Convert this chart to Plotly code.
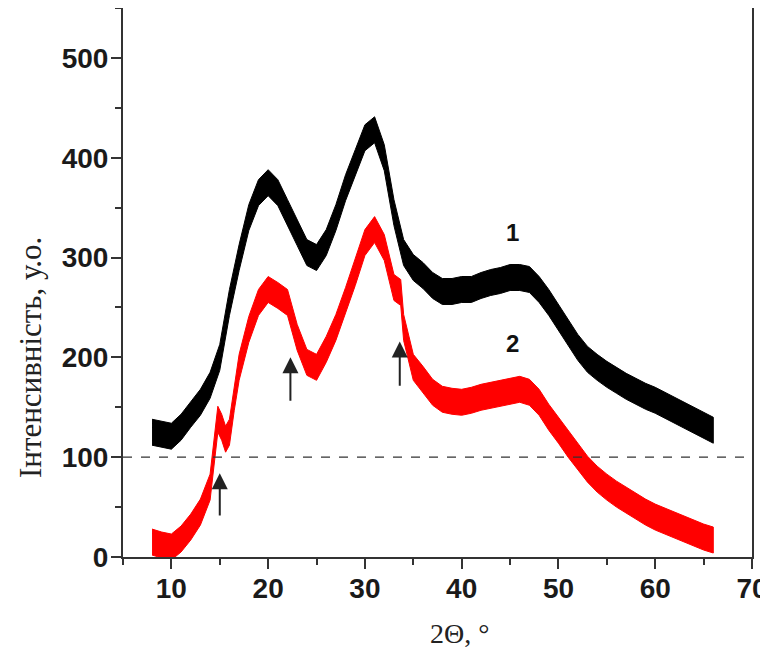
import plotly.graph_objects as go

# 2Theta positions (degrees)
x1 = [8, 9, 10, 11, 12, 13, 14, 15, 16, 17, 18, 19, 20, 21, 22, 23, 24, 25, 26, 27, 28, 29, 30, 31, 32, 33,
      34, 35, 36, 37, 38, 39, 40, 41, 42, 43, 44, 45, 46, 47, 48, 49, 50, 51, 52, 53, 54, 55, 56, 57, 58, 59,
      60, 61, 62, 63, 64, 65, 66]
y1 = [125, 123, 121, 130, 143, 155, 172, 200, 255, 300, 340, 365, 375, 365, 345, 325, 305, 300, 315, 340,
      370, 395, 420, 428, 400, 345, 305, 290, 282, 272, 266, 266, 268, 268, 272, 275, 277, 280, 280, 278,
      268, 255, 240, 225, 210, 198, 190, 183, 177, 171, 166, 161, 157, 152, 147, 142, 137, 132, 127]

x2 = [8, 9, 10, 11, 12, 13, 14, 14.5, 14.8, 15.2, 15.6, 16, 16.5, 17, 18, 19, 20, 21, 22, 23, 24, 25, 26, 27,
      28, 29, 30, 31, 32, 33, 33.7, 34, 35, 36, 37, 38, 39, 40, 41, 42, 43, 44, 45, 46, 47, 48, 49, 50, 51, 52,
      53, 54, 55, 56, 57, 58, 59, 60, 61, 62, 63, 64, 65, 66]
y2 = [15, 12, 10, 18, 30, 45, 70, 110, 138, 130, 118, 125, 160, 190, 228, 255, 268, 262, 255, 220, 195, 190,
      208, 230, 257, 285, 315, 328, 310, 270, 265, 230, 190, 178, 165, 158, 156, 155, 157, 160, 162, 164, 166,
      168, 165, 155, 140, 127, 113, 100, 88, 78, 70, 63, 57, 51, 45, 40, 36, 32, 28, 24, 20, 17]

# noise half-widths of the patterns (intensity units)
noise1 = 13
noise2 = 13

# arrows: x position, tail and head intensity
arrow_x = [15.0, 22.3, 33.6]
arrow_tail = [40, 155, 170]
arrow_head = [84, 200, 216]

# curve labels
label_text = ["1", "2"]
label_x = [45.2, 45.2]
label_y = [325, 214]

# page is offset by the 8px body margin, so the figure is 8px smaller
W, H = 760, 647
ML, MR, MT, MB = 115, 16, 0, 98
PW, PH = W - ML - MR, H - MT - MB

fig = go.Figure()


def add_pattern(xs, ys, spread, color):
    upper = [v + spread for v in ys]
    lower = [v - spread for v in ys]
    fig.add_trace(go.Scatter(x=xs + xs[::-1], y=upper + lower[::-1], fill="toself",
                             fillcolor=color, line=dict(color=color, width=1),
                             mode="lines", hoverinfo="skip", showlegend=False))


add_pattern(x1, y1, noise1, "#000000")
add_pattern(x2, y2, noise2, "#ff0000")

fig.add_shape(type="line", xref="paper", x0=0, x1=1, yref="y", y0=100, y1=100,
              line=dict(color="#333333", width=1.2, dash="dash"))

for ax_, t, h in zip(arrow_x, arrow_tail, arrow_head):
    fig.add_annotation(x=ax_, y=h, ax=ax_, ay=t, xref="x", yref="y", axref="x", ayref="y",
                       text="", showarrow=True, arrowhead=2, arrowsize=1.6, arrowwidth=2,
                       arrowcolor="#222222")

for t, lx, ly in zip(label_text, label_x, label_y):
    fig.add_annotation(x=lx, y=ly, text=t, showarrow=False,
                       font=dict(family="Liberation Sans", size=24, color="#111111", weight="bold"))

# axis titles placed in the margins (target pixel centres in the figure)
fig.add_annotation(xref="paper", yref="paper", x=(22 - ML) / PW, y=(PH - 350) / PH,
                   xanchor="center", yanchor="middle",
                   text="Інтенсивність, у.о.", textangle=-90, showarrow=False,
                   font=dict(family="Liberation Serif", size=31, color="#222222"))
fig.add_annotation(xref="paper", yref="paper", x=(451 - ML) / PW, y=(PH - 625) / PH,
                   xanchor="center", yanchor="middle",
                   text="2Θ, °", showarrow=False,
                   font=dict(family="Liberation Serif", size=28, color="#222222"))

tickfont = dict(family="Liberation Sans", size=28, color="#1a1a1a", weight="bold")

fig.update_layout(
    width=W, height=H,
    margin=dict(l=ML, r=MR, t=MT, b=MB),
    plot_bgcolor="white", paper_bgcolor="white",
    showlegend=False,
)
fig.update_xaxes(range=[5, 70], dtick=10, tick0=0, showgrid=False, zeroline=False, automargin=False,
                 showline=True, linecolor="#333333", linewidth=2, mirror=True,
                 ticks="outside", ticklen=10, tickwidth=2, tickcolor="#333333", ticklabelstandoff=-5,
                 ticklabeloverflow="allow",
                 minor=dict(dtick=5, tick0=5, ticks="outside", ticklen=6, tickwidth=2, tickcolor="#333333"),
                 tickfont=tickfont)
fig.update_yaxes(range=[0, 550], dtick=100, tick0=0, showgrid=False, zeroline=False, automargin=False,
                 showline=True, linecolor="#333333", linewidth=2, mirror=True,
                 ticks="outside", ticklen=10, tickwidth=2, tickcolor="#333333", ticklabelstandoff=-3,
                 ticklabeloverflow="allow",
                 minor=dict(dtick=50, tick0=0, ticks="outside", ticklen=6, tickwidth=2, tickcolor="#333333"),
                 tickfont=tickfont)

fig.write_html("out.html")
